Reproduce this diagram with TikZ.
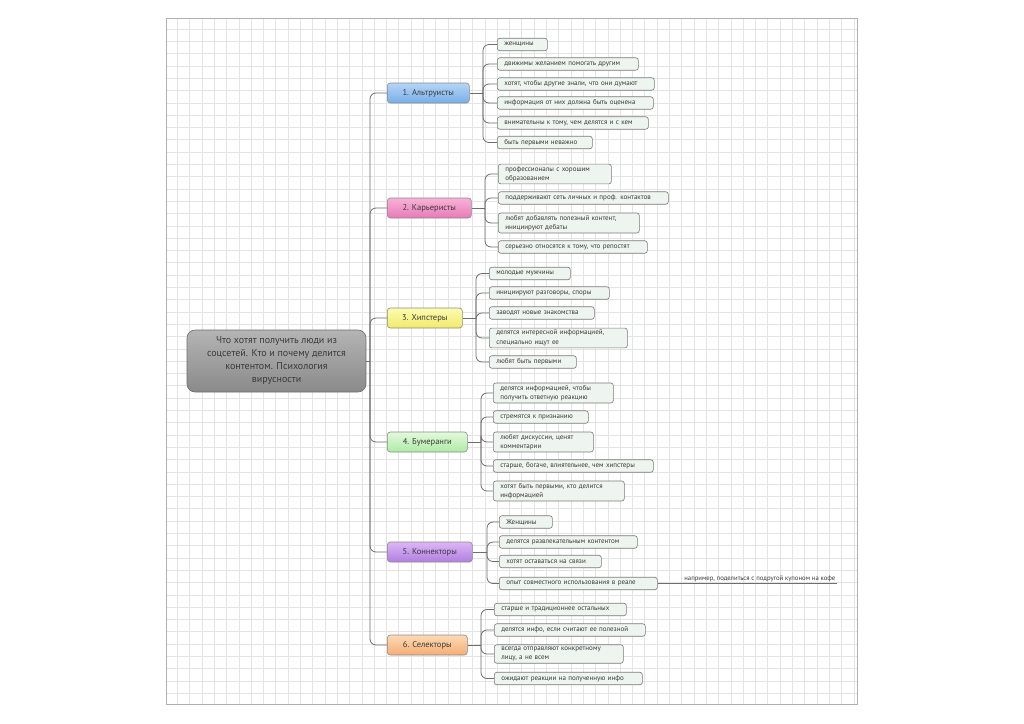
\documentclass[tikz,border=0pt]{standalone}
\usepackage{fontspec}
\setmainfont{PT Sans}
\usepackage{xcolor}
\usepackage{tikz}
\definecolor{CFFFFFF}{HTML}{FFFFFF}
\definecolor{CE4E4E4}{HTML}{E4E4E4}
\definecolor{CB0B0B0}{HTML}{B0B0B0}
\definecolor{C6E6E6E}{HTML}{6E6E6E}
\definecolor{C7A7A7A}{HTML}{7A7A7A}
\definecolor{CEEF4EF}{HTML}{EEF4EF}
\definecolor{C3A3A3A}{HTML}{3A3A3A}
\definecolor{CB4B4B4}{HTML}{B4B4B4}
\definecolor{C8A8A8A}{HTML}{8A8A8A}
\definecolor{CB5D5F8}{HTML}{B5D5F8}
\definecolor{C78AEE8}{HTML}{78AEE8}
\definecolor{CF8B2D6}{HTML}{F8B2D6}
\definecolor{CE87AB8}{HTML}{E87AB8}
\definecolor{CFCFCB2}{HTML}{FCFCB2}
\definecolor{CF0EA6A}{HTML}{F0EA6A}
\definecolor{CE2FADC}{HTML}{E2FADC}
\definecolor{CAEEAA5}{HTML}{AEEAA5}
\definecolor{CDCB6F5}{HTML}{DCB6F5}
\definecolor{CB27EE0}{HTML}{B27EE0}
\definecolor{CFDDAB6}{HTML}{FDDAB6}
\definecolor{CF5AD74}{HTML}{F5AD74}

\tikzset{
  conn/.style={draw=C6E6E6E, line width=0.8pt, rounded corners=6pt},
  leaf/.style={draw=C7A7A7A, fill=CEEF4EF, line width=0.6pt, rounded corners=2.5pt, anchor=west,
    align=left, inner xsep=7pt, inner ysep=2pt, minimum height=12.5pt,
    font=\fontsize{7}{9.5}\selectfont, text=C3A3A3A},
  branch/.style={draw=C8A8A8A, line width=0.6pt, rounded corners=3pt, anchor=west,
    minimum height=20pt, font=\fontsize{8.5}{10}\selectfont, text=C3A3A3A},
  root/.style={draw=C6E6E6E, line width=0.6pt, top color=CB4B4B4, bottom color=C8A8A8A,
    rounded corners=8pt, minimum width=179pt, minimum height=62pt, align=center,
    font=\fontsize{10}{13}\selectfont, text=C3A3A3A},
  note/.style={anchor=south east, inner sep=1.5pt, font=\fontsize{6.7}{9}\selectfont, text=C3A3A3A},
}

\begin{document}
\begin{tikzpicture}[inner sep=0pt]
\useasboundingbox (0pt,0pt) rectangle (1024pt,-723pt);
% sheet with grid
\path [fill=CFFFFFF] (166pt,-18pt) rectangle (857pt,-704pt);
\begin{scope}
\clip (166pt,-18pt) rectangle (857pt,-704pt);
\begin{scope}[shift={(177.3pt,-29pt)}]
\draw [CE4E4E4, line width=0.6pt, step=12.3pt] (-20pt,20pt) grid (690pt,-690pt);
\end{scope}
\end{scope}
\path [draw=CB0B0B0, line width=0.8pt] (166pt,-18pt) rectangle (857pt,-704pt);

% central topic
\node (n0) [root, at={(276.5pt,-361pt)}] {Что хотят получить люди из\\соцсетей. Кто и почему делится\\контентом. Психология\\вирусности};

% main topics
\node (n1) [branch, minimum width=82pt, top color=CB5D5F8, bottom color=C78AEE8, at={(387pt,-93pt)}] {1. Альтруисты};
\node (n2) [branch, minimum width=84pt, top color=CF8B2D6, bottom color=CE87AB8, at={(387pt,-208pt)}] {2. Карьеристы};
\node (n3) [branch, minimum width=75pt, top color=CFCFCB2, bottom color=CF0EA6A, at={(387pt,-318pt)}] {3. Хипстеры};
\node (n4) [branch, minimum width=80pt, top color=CE2FADC, bottom color=CAEEAA5, at={(387pt,-442pt)}] {4. Бумеранги};
\node (n5) [branch, minimum width=85pt, top color=CDCB6F5, bottom color=CB27EE0, at={(387pt,-552pt)}] {5. Коннекторы};
\node (n6) [branch, minimum width=80pt, top color=CFDDAB6, bottom color=CF5AD74, at={(387pt,-645pt)}] {6. Селекторы};

% subtopics
\node (n11) [leaf, text width=36pt, at={(497pt,-44.5pt)}] {женщины};
\node (n12) [leaf, text width=127pt, at={(497pt,-64pt)}] {движимы желанием помогать другим};
\node (n13) [leaf, text width=143pt, at={(497pt,-84pt)}] {хотят, чтобы другие знали, что они думают};
\node (n14) [leaf, text width=142pt, at={(497pt,-103pt)}] {информация от них должна быть оценена};
\node (n15) [leaf, text width=137pt, at={(497pt,-123pt)}] {внимательны к тому, чем делятся и с кем};
\node (n16) [leaf, text width=81pt, at={(497pt,-142.5pt)}] {быть первыми неважно};

\node (n21) [leaf, text width=99pt, at={(498pt,-174pt)}] {профессионалы с хорошим\\образованием};
\node (n22) [leaf, text width=156pt, at={(498pt,-198pt)}] {поддерживают сеть личных и проф. контактов};
\node (n23) [leaf, text width=127pt, at={(498pt,-223pt)}] {любят добавлять полезный контент,\\инициируют дебаты};
\node (n24) [leaf, text width=135pt, at={(498pt,-247pt)}] {серьезно относятся к тому, что репостят};

\node (n31) [leaf, text width=67pt, at={(489pt,-273.5pt)}] {молодые мужчины};
\node (n32) [leaf, text width=106pt, at={(489pt,-293pt)}] {инициируют разговоры, споры};
\node (n33) [leaf, text width=91pt, at={(489pt,-313pt)}] {заводят новые знакомства};
\node (n34) [leaf, text width=124pt, at={(489pt,-338pt)}] {делятся интересной информацией,\\специально ищут ее};
\node (n35) [leaf, text width=73pt, at={(489pt,-362pt)}] {любят быть первыми};

\node (n41) [leaf, text width=106pt, at={(493pt,-393pt)}] {делятся информацией, чтобы\\получить ответную реакцию};
\node (n42) [leaf, text width=81pt, at={(493pt,-417pt)}] {стремятся к признанию};
\node (n43) [leaf, text width=86pt, at={(493pt,-442pt)}] {любят дискуссии, ценят\\комментарии};
\node (n44) [leaf, text width=146pt, at={(493pt,-466pt)}] {старше, богаче, влиятельнее, чем хипстеры};
\node (n45) [leaf, text width=117pt, at={(493pt,-491pt)}] {хотят быть первыми, кто делится\\информацией};

\node (n51) [leaf, text width=39pt, at={(499pt,-522pt)}] {Женщины};
\node (n52) [leaf, text width=124pt, at={(499pt,-542pt)}] {делятся развлекательным контентом};
\node (n53) [leaf, text width=88pt, at={(499pt,-561.5pt)}] {хотят оставаться на связи};
\node (n54) [leaf, text width=144pt, at={(499pt,-583.5pt)}] {опыт совместного использования в реале};
\node (n55) [note, at={(837pt,-583.5pt)}] {например, поделиться с подругой купоном на кофе};

\node (n61) [leaf, text width=118pt, at={(494pt,-609.5pt)}] {старше и традиционнее остальных};
\node (n62) [leaf, text width=137pt, at={(494pt,-630pt)}] {делятся инфо, если считают ее полезной};
\node (n63) [leaf, text width=115pt, at={(494pt,-654pt)}] {всегда отправляют конкретному\\лицу, а не всем};
\node (n64) [leaf, text width=134pt, at={(494pt,-678.5pt)}] {ожидают реакции на полученную инфо};

% junctions
\coordinate (c0) at (370pt,-361pt);
\coordinate (c1) at (483pt,-93pt);
\coordinate (c2) at (485pt,-208pt);
\coordinate (c3) at (476pt,-318pt);
\coordinate (c4) at (481pt,-442pt);
\coordinate (c5) at (487pt,-552pt);
\coordinate (c6) at (481pt,-645pt);

% main trunk
\path [conn] (n0.east)--(c0);
\path [conn] (n1.west) -| (c0) |- (n6.west);
\path [conn] (c0) |- (n2.west);
\path [conn] (c0) |- (n3.west);
\path [conn] (c0) |- (n4.west);
\path [conn] (c0) |- (n5.west);

% branches
\path [conn] (n1.east)--(c1);
\path [conn] (c1) |- (n11.west);
\path [conn] (c1) |- (n12.west);
\path [conn] (c1) |- (n13.west);
\path [conn] (c1) |- (n14.west);
\path [conn] (c1) |- (n15.west);
\path [conn] (c1) |- (n16.west);
\path [conn] (n2.east)--(c2);
\path [conn] (c2) |- (n21.west);
\path [conn] (c2) |- (n22.west);
\path [conn] (c2) |- (n23.west);
\path [conn] (c2) |- (n24.west);
\path [conn] (n3.east)--(c3);
\path [conn] (c3) |- (n31.west);
\path [conn] (c3) |- (n32.west);
\path [conn] (c3) |- (n33.west);
\path [conn] (c3) |- (n34.west);
\path [conn] (c3) |- (n35.west);
\path [conn] (n4.east)--(c4);
\path [conn] (c4) |- (n41.west);
\path [conn] (c4) |- (n42.west);
\path [conn] (c4) |- (n43.west);
\path [conn] (c4) |- (n44.west);
\path [conn] (c4) |- (n45.west);
\path [conn] (n5.east)--(c5);
\path [conn] (c5) |- (n51.west);
\path [conn] (c5) |- (n52.west);
\path [conn] (c5) |- (n53.west);
\path [conn] (c5) |- (n54.west);
\path [conn] (n54.east)--(n55.south east);
\path [conn] (n6.east)--(c6);
\path [conn] (c6) |- (n61.west);
\path [conn] (c6) |- (n62.west);
\path [conn] (c6) |- (n63.west);
\path [conn] (c6) |- (n64.west);
\end{tikzpicture}
\end{document}
